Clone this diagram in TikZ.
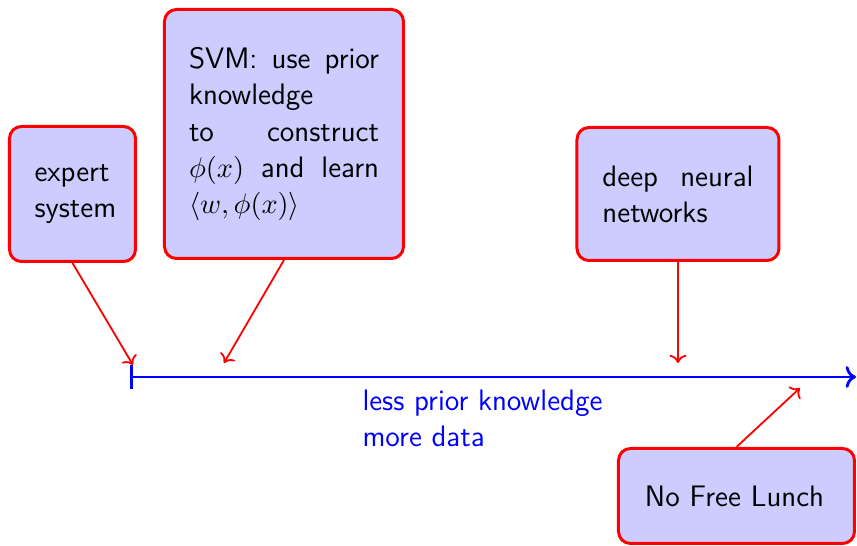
\documentclass[tikz,border=0pt]{standalone}
\usetikzlibrary{arrows.meta}
\newdimen\pxu \pxu=0.3866pt
\begin{document}
\begin{tikzpicture}[x=0.3866pt,y=-0.3866pt,
  box/.style={draw=red,fill=blue!20,line width=3\pxu,rounded corners=12\pxu,
    inner sep=0pt,font=\sffamily\fontsize{11.45}{13.95}\selectfont},
  redarr/.style={draw=red,line width=0.7pt,->},
  axis/.style={draw=blue,line width=1.1pt,arrows={Bar[width=9pt]-To}}]
\useasboundingbox (0,0) rectangle (857,546);
\node[box,minimum width=126\pxu,minimum height=135\pxu,text width=76\pxu,align=left] (expert) at (72.5,194) {expert\\system};
\node[box,minimum width=239\pxu,minimum height=249\pxu,text width=190\pxu,align=left] (svm) at (284,134)
  {SVM:\hfill use\hfill prior\\knowledge\\to\hfill construct\\$\phi(x)$\hfill and\hfill learn\\$\langle w,\phi(x)\rangle$};
\node[box,minimum width=202\pxu,minimum height=133\pxu,text width=151\pxu,align=left] (deep) at (678,194) {deep\hfill neural\\networks};
\node[box,minimum width=236\pxu,minimum height=95\pxu,text width=183\pxu,align=left] (nfl) at (736.5,496) {No Free Lunch};
\coordinate (a0) at (130,377);
\coordinate (a1) at (856,377);
\draw[axis] (a0) -- (a1);
\node[anchor=west,align=left,text=blue,inner sep=0pt,font=\sffamily\fontsize{11.45}{13.95}\selectfont] (lbl) at (362,418) {less prior knowledge\\more data};
\coordinate (e1) at (133,365);
\coordinate (s1) at (224,363);
\coordinate (d1) at (678,363);
\coordinate (n1) at (800,388);
\draw[redarr] (expert.south) -- (e1);
\draw[redarr] (svm.south) -- (s1);
\draw[redarr] (deep.south) -- (d1);
\draw[redarr] (nfl.north) -- (n1);
\end{tikzpicture}
\end{document}
